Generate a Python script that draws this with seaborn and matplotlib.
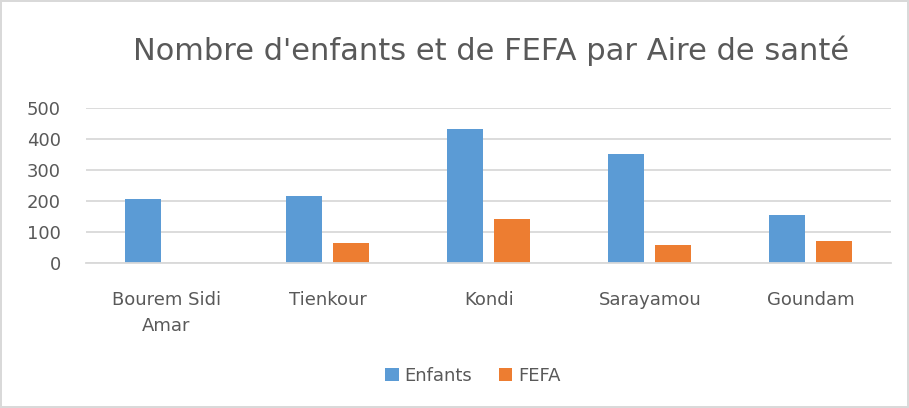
import pandas as pd
import matplotlib.pyplot as plt
import seaborn as sns

# Values
aires = ['Bourem Sidi\nAmar', 'Tienkour', 'Kondi', 'Sarayamou', 'Goundam']
enfants = [208, 218, 433, 353, 154]
fefa = [0, 66, 141, 58, 73]
series = ['Enfants', 'FEFA']
colors = ['#5B9BD5', '#ED7D31']

df = pd.DataFrame({
    'aire': aires * 2,
    'serie': [series[0]] * len(aires) + [series[1]] * len(aires),
    'valeur': enfants + fefa,
})

sns.set_style('white')
plt.rcParams['font.family'] = ['DejaVu Sans']

fig = plt.figure(figsize=(9.09, 4.08), dpi=100)
fig.patch.set_edgecolor('#D9D9D9')
fig.patch.set_linewidth(1.5)
ax = fig.add_axes([0.0946, 0.355, 0.886, 0.38])

sns.barplot(df, x='aire', y='valeur', hue='serie', palette=colors,
            width=0.584, gap=0.234, saturation=1, linewidth=0,
            ax=ax, legend=True)

ax.set_ylim(0, 500)
ax.set_yticks([0, 100, 200, 300, 400, 500])
ax.set_xlim(-0.5, len(aires) - 0.5)
ax.yaxis.grid(True, color='#D9D9D9', linewidth=1.3)
ax.set_axisbelow(True)
for side in ['top', 'right', 'left']:
    ax.spines[side].set_visible(False)
ax.spines['bottom'].set_color('#D9D9D9')
ax.spines['bottom'].set_linewidth(1.3)
ax.tick_params(axis='both', length=0, labelsize=13, labelcolor='#595959')
ax.tick_params(axis='x', pad=20)
ax.tick_params(axis='y', pad=18)
for lab in ax.get_xticklabels():
    lab.set_linespacing(1.6)
ax.set(xlabel=None, ylabel=None)

fig.text(0.54, 0.875, "Nombre d'enfants et de FEFA par Aire de santé",
         ha='center', va='center', fontsize=22, color='#595959')

handles, labels = ax.get_legend_handles_labels()
ax.legend_.remove()
fig.legend(handles, labels, loc='center', bbox_to_anchor=(0.52, 0.078), ncol=2,
           frameon=False, fontsize=13, labelcolor='#595959', handlelength=0.75,
           handleheight=0.75, handletextpad=0.3, columnspacing=1.5)

fig.savefig('out.png', dpi=100)
